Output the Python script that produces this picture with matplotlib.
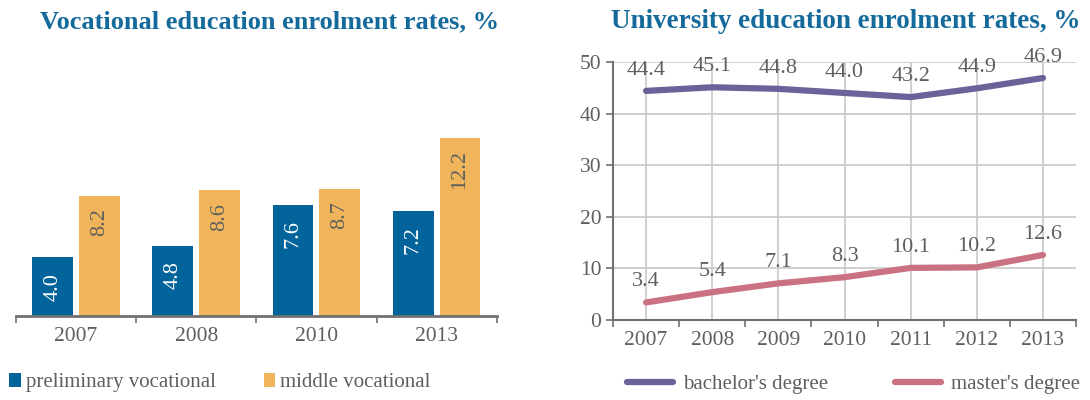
import matplotlib.pyplot as plt
import numpy as np

plt.rcParams['font.family'] = ['Liberation Serif', 'DejaVu Serif']

# vocational (left)
voc_years = ['2007', '2008', '2010', '2013']
preliminary = [4.0, 4.8, 7.6, 7.2]
middle = [8.2, 8.6, 8.7, 12.2]

# university (right)
uni_years = ['2007', '2008', '2009', '2010', '2011', '2012', '2013']
bachelor = [44.4, 45.1, 44.8, 44.0, 43.2, 44.9, 46.9]
master = [3.4, 5.4, 7.1, 8.3, 10.1, 10.2, 12.6]

blue = '#02649A'
orange = '#F0B55A'
purple = '#6A6399'
pink = '#CB7282'
title_col = '#156A9C'
txt = '#5F5F5F'
axcol = '#707070'
gridcol = '#C8C8C8'

fig = plt.figure(figsize=(10.9, 4), dpi=100)

# ---------- left: bars ----------
ax1 = fig.add_axes([0.0147, 0.21, 0.441, 0.64])
x = np.arange(len(voc_years))
w = 0.34
b1 = ax1.bar(x - w / 2 - 0.025, preliminary, w, color=blue, label='preliminary vocational')
b2 = ax1.bar(x + w / 2 + 0.025, middle, w, color=orange, label='middle vocational')
for rect, v in zip(b1, preliminary):
    ax1.annotate(f'{v:.1f}', (rect.get_x() + rect.get_width() / 2, v), xytext=(0, -11),
                 textcoords='offset points', ha='center', va='top', rotation=90,
                 color='white', fontsize=16)
for rect, v in zip(b2, middle):
    ax1.annotate(f'{v:.1f}', (rect.get_x() + rect.get_width() / 2, v), xytext=(0, -9),
                 textcoords='offset points', ha='center', va='top', rotation=90,
                 color=txt, fontsize=16)
ax1.set_xlim(-0.5, len(voc_years) - 0.5)
ax1.set_ylim(0, 17.5)
ax1.set_yticks([])
ax1.set_xticks(x)
ax1.set_xticklabels(voc_years, fontsize=15.5, color=txt)
ax1.set_xticks(np.arange(-0.5, len(voc_years)), minor=True)
ax1.tick_params(axis='x', which='major', length=0, pad=8)
ax1.tick_params(axis='x', which='minor', length=5, width=1.2, color=axcol, direction='out')
for s in ['top', 'right', 'left']:
    ax1.spines[s].set_visible(False)
ax1.spines['bottom'].set_color(axcol)
ax1.spines['bottom'].set_linewidth(2)
fig.text(0.247, 0.945, 'Vocational education enrolment rates, %', ha='center', va='center',
         fontsize=19, fontweight='bold', color=title_col)
ax1.legend(loc='center left', bbox_to_anchor=(-0.053, -0.26), ncol=2, frameon=False,
           fontsize=15, labelcolor=txt, handlelength=0.55, handleheight=0.65,
           handletextpad=0.25, columnspacing=2.3)

# ---------- right: lines ----------
ax2 = fig.add_axes([0.5624, 0.2, 0.4248, 0.645])
xu = np.arange(len(uni_years))
ax2.plot(xu, bachelor, color=purple, lw=4.5, solid_capstyle='round', label="bachelor's degree")
ax2.plot(xu, master, color=pink, lw=4.5, solid_capstyle='round', label="master's degree")
for xi, v in zip(xu, bachelor):
    ax2.annotate(f'{v:.1f}', (xi, v), xytext=(0, 8), textcoords='offset points',
                 ha='center', va='bottom', color=txt, fontsize=16)
for xi, v in zip(xu, master):
    ax2.annotate(f'{v:.1f}', (xi, v), xytext=(0, 8), textcoords='offset points',
                 ha='center', va='bottom', color=txt, fontsize=16)
ax2.set_xlim(-0.5, len(uni_years) - 0.5)
ax2.set_ylim(0, 50)
ax2.set_yticks(range(0, 51, 10))
ax2.set_xticks(xu)
ax2.set_xticklabels(uni_years, fontsize=15.5, color=txt)
ax2.set_xticks(np.arange(-0.5, len(uni_years)), minor=True)
ax2.tick_params(axis='y', labelsize=15.5, labelcolor=txt, length=5, width=1.2, color=axcol)
ax2.tick_params(axis='x', which='major', length=0, pad=8)
ax2.tick_params(axis='x', which='minor', length=5, width=1.2, color=axcol, direction='out')
ax2.grid(True, color=gridcol, lw=1.2)
ax2.set_axisbelow(True)
for s in ['top', 'right']:
    ax2.spines[s].set_visible(False)
for s in ['left', 'bottom']:
    ax2.spines[s].set_color(axcol)
    ax2.spines[s].set_linewidth(1.5)
fig.text(0.776, 0.945, 'University education enrolment rates, %', ha='center', va='center',
         fontsize=19.5, fontweight='bold', color=title_col)
ax2.legend(loc='center left', bbox_to_anchor=(-0.01, -0.25), ncol=2, frameon=False,
           fontsize=15, labelcolor=txt, handlelength=2.2, handletextpad=0.5,
           columnspacing=3.2)

fig.savefig('out.png', dpi=100)
